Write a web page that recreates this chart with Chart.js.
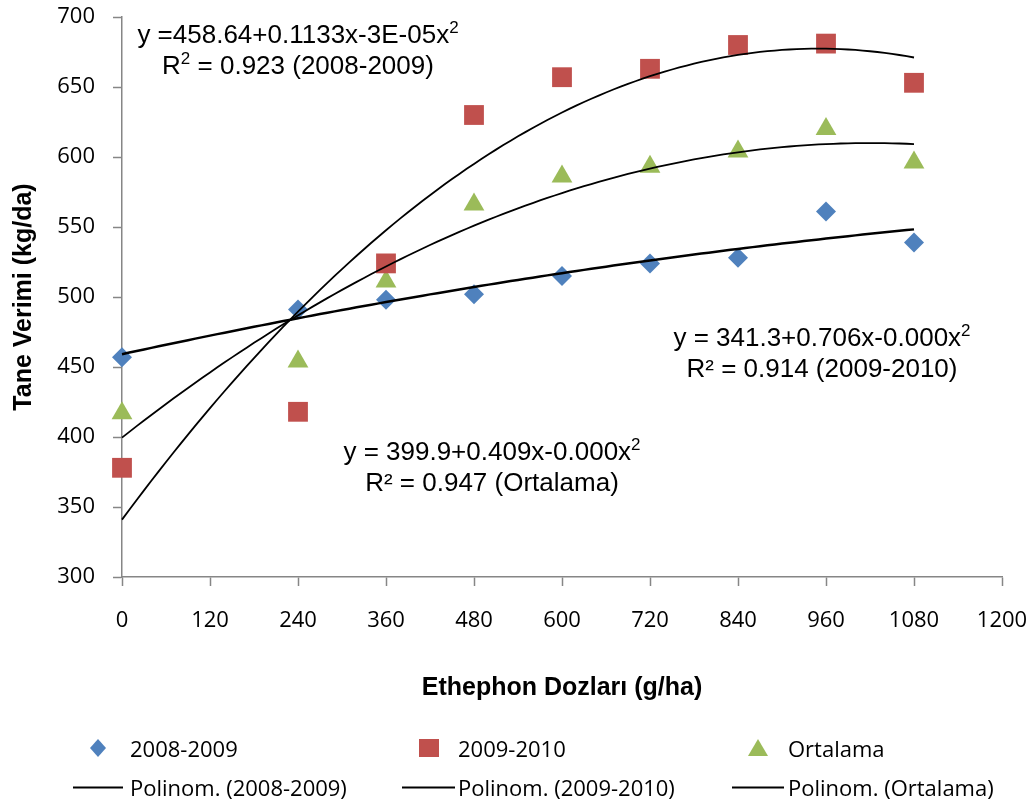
<!DOCTYPE html>
<html>
<head>
<meta charset="utf-8">
<script src="https://cdn.jsdelivr.net/npm/chart.js@4.4.1/dist/chart.umd.min.js"></script>
<style>
    body { margin: 0; background: #fff; }
    #wrap { position: relative; width: 1029px; height: 802px; }
    .esitlik {
        position: absolute; width: 500px; text-align: center;
        font-family: "Liberation Sans", Arial, sans-serif; font-size: 26px;
        line-height: 31px; color: #000; white-space: nowrap;
    }
    .esitlik sup { font-size: 17px; line-height: 0; vertical-align: 0.6em; }
    .lejant {
        position: absolute; font-family: "Open Sans", sans-serif; font-size: 22px;
        color: #000; white-space: nowrap; line-height: 24px;
    }
    .isaret { position: absolute; }
</style>
</head>
<body>
<div id="wrap">
    <canvas id="verimChart" width="1029" height="802"></canvas>

    <div class="esitlik" style="left:48px; top:19px;">y =458.64+0.1133x-3E-05x<sup>2</sup><br>R<sup>2</sup> = 0.923 (2008-2009)</div>
    <div class="esitlik" style="left:572px; top:322px;">y = 341.3+0.706x-0.000x<sup>2</sup><br>R² = 0.914 (2009-2010)</div>
    <div class="esitlik" style="left:242px; top:436px;">y = 399.9+0.409x-0.000x<sup>2</sup><br>R² = 0.947 (Ortalama)</div>

    <!-- lejant -->
    <svg class="isaret" style="left:89px; top:739px;" width="18" height="18"><polygon points="9,0 17,9 9,18 1,9" fill="#4F81BD"/></svg>
    <div class="lejant" style="left:130px; top:736px;">2008-2009</div>
    <svg class="isaret" style="left:419px; top:739px;" width="20" height="18"><rect x="0" y="0" width="20" height="18" fill="#C0504D"/></svg>
    <div class="lejant" style="left:458px; top:736px;">2009-2010</div>
    <svg class="isaret" style="left:748px; top:739px;" width="20" height="18"><polygon points="10,0 20,17 0,17" fill="#9BBB59"/></svg>
    <div class="lejant" style="left:788px; top:736px;">Ortalama</div>

    <svg class="isaret" style="left:73px; top:786px;" width="50" height="3"><line x1="0" y1="1.5" x2="50" y2="1.5" stroke="#000" stroke-width="2"/></svg>
    <div class="lejant" style="left:130px; top:775px;">Polinom. (2008-2009)</div>
    <svg class="isaret" style="left:402px; top:786px;" width="53" height="3"><line x1="0" y1="1.5" x2="53" y2="1.5" stroke="#000" stroke-width="2"/></svg>
    <div class="lejant" style="left:458px; top:775px;">Polinom. (2009-2010)</div>
    <svg class="isaret" style="left:732px; top:786px;" width="52" height="3"><line x1="0" y1="1.5" x2="52" y2="1.5" stroke="#000" stroke-width="2"/></svg>
    <div class="lejant" style="left:788px; top:775px;">Polinom. (Ortalama)</div>
</div>

<script>
// Ethephon dozları (g/ha)
const dozlar = [0, 240, 360, 480, 600, 720, 840, 960, 1080];
// Tane verimi (kg/da)
const verim2008 = [457, 491, 498, 502, 515, 524, 528, 561, 539];
const verim2009 = [378, 418, 524, 630, 657, 663, 680, 681, 653];
const verimOrt = [417, 454, 511, 566, 586, 593, 604, 620, 596];

const xTicks = [0, 120, 240, 360, 480, 600, 720, 840, 960, 1080, 1200];
const yTicks = [300, 350, 400, 450, 500, 550, 600, 650, 700];

// 2. derece polinom (en küçük kareler)
function polinomFit(xs, ys) {
    let s = [0, 0, 0, 0, 0], t = [0, 0, 0];
    for (let i = 0; i < xs.length; i++) {
        for (let k = 0; k < 5; k++) s[k] += Math.pow(xs[i], k);
        for (let k = 0; k < 3; k++) t[k] += ys[i] * Math.pow(xs[i], k);
    }
    const m = [
        [s[0], s[1], s[2], t[0]],
        [s[1], s[2], s[3], t[1]],
        [s[2], s[3], s[4], t[2]]
    ];
    for (let i = 0; i < 3; i++) {
        for (let j = i + 1; j < 3; j++) {
            const f = m[j][i] / m[i][i];
            for (let k = i; k < 4; k++) m[j][k] -= f * m[i][k];
        }
    }
    const c = [0, 0, 0];
    for (let i = 2; i >= 0; i--) {
        let v = m[i][3];
        for (let k = i + 1; k < 3; k++) v -= m[i][k] * c[k];
        c[i] = v / m[i][i];
    }
    return c;
}

function egriNoktalari(ys) {
    const c = polinomFit(dozlar, ys);
    const pts = [];
    for (let x = 0; x <= dozlar[dozlar.length - 1]; x += 10) {
        pts.push({ x: x, y: c[0] + c[1] * x + c[2] * x * x });
    }
    return pts;
}

function noktalar(ys) {
    return dozlar.map((d, i) => ({ x: d, y: ys[i] }));
}

const eksenRengi = '#868686';

const verimChart = new Chart(document.getElementById('verimChart'), {
    type: 'scatter',
    data: {
        datasets: [{
            label: 'Polinom. (2008-2009)',
            type: 'line',
            data: egriNoktalari(verim2008),
            borderColor: '#000',
            borderWidth: 2.5,
            pointRadius: 0,
            fill: false,
            clip: false,
            order: 0
        }, {
            label: 'Polinom. (2009-2010)',
            type: 'line',
            data: egriNoktalari(verim2009),
            borderColor: '#000',
            borderWidth: 1.8,
            pointRadius: 0,
            fill: false,
            clip: false,
            order: 0
        }, {
            label: 'Polinom. (Ortalama)',
            type: 'line',
            data: egriNoktalari(verimOrt),
            borderColor: '#000',
            borderWidth: 1.8,
            pointRadius: 0,
            fill: false,
            clip: false,
            order: 0
        }, {
            label: '2008-2009',
            data: noktalar(verim2008),
            pointStyle: 'rectRot',
            pointRadius: 10,
            backgroundColor: '#4F81BD',
            borderWidth: 0,
            clip: false,
            order: 1
        }, {
            label: '2009-2010',
            data: noktalar(verim2009),
            pointStyle: 'rect',
            pointRadius: 14,
            backgroundColor: '#C0504D',
            borderWidth: 0,
            clip: false,
            order: 1
        }, {
            label: 'Ortalama',
            data: noktalar(verimOrt),
            pointStyle: 'triangle',
            pointRadius: 12,
            backgroundColor: '#9BBB59',
            borderWidth: 0,
            clip: false,
            order: 1
        }]
    },
    options: {
        responsive: false,
        animation: false,
        events: [],
        layout: {
            autoPadding: false,
            padding: { left: 9, right: 27, top: 17, bottom: 99 }
        },
        plugins: {
            legend: { display: false },
            tooltip: { enabled: false }
        },
        scales: {
            x: {
                type: 'linear',
                min: 0,
                max: 1200,
                afterBuildTicks: (scale) => { scale.ticks = xTicks.map(v => ({ value: v })); },
                afterFit: (scale) => {
                    scale.height = 126;
                    scale.paddingLeft = 0;
                    scale.paddingRight = 0;
                },
                ticks: {
                    color: '#000',
                    padding: 22,
                    callback: (v) => String(v),
                    font: { family: 'Open Sans', size: 22 }
                },
                grid: {
                    drawOnChartArea: false,
                    tickLength: 9,
                    tickWidth: 1.5,
                    color: eksenRengi
                },
                border: { color: eksenRengi, width: 1.5 },
                title: {
                    display: true,
                    text: 'Ethephon Dozları (g/ha)',
                    color: '#000',
                    padding: 0,
                    font: { family: 'Liberation Sans', size: 25, weight: 'bold' }
                }
            },
            y: {
                min: 300,
                max: 700,
                afterBuildTicks: (scale) => { scale.ticks = yTicks.map(v => ({ value: v })); },
                afterFit: (scale) => {
                    scale.width = 113;
                    scale.paddingTop = 0;
                    scale.paddingBottom = 0;
                },
                ticks: {
                    color: '#000',
                    padding: 18,
                    callback: (v) => String(v),
                    font: { family: 'Open Sans', size: 22 }
                },
                grid: {
                    drawOnChartArea: false,
                    tickLength: 9,
                    tickWidth: 1.5,
                    color: eksenRengi
                },
                border: { color: eksenRengi, width: 1.5 },
                title: {
                    display: true,
                    text: 'Tane Verimi (kg/da)',
                    color: '#000',
                    padding: 0,
                    font: { family: 'Liberation Sans', size: 25, weight: 'bold' }
                }
            }
        }
    }
});
</script>
</body>
</html>
